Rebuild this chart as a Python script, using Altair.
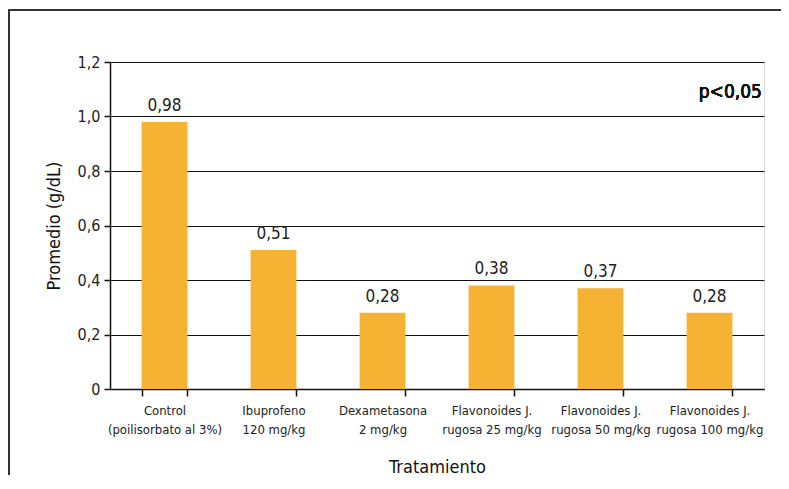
import altair as alt
import pandas as pd

categories = [
    "Control|(poilisorbato al 3%)",
    "Ibuprofeno|120 mg/kg",
    "Dexametasona|2 mg/kg",
    "Flavonoides J.|rugosa 25 mg/kg",
    "Flavonoides J.|rugosa 50 mg/kg",
    "Flavonoides J.|rugosa 100 mg/kg",
]
values = [0.98, 0.51, 0.28, 0.38, 0.37, 0.28]
y_ticks = [0, 0.2, 0.4, 0.6, 0.8, 1.0, 1.2]

df = pd.DataFrame({"cat": categories, "val": values})

FONT = "DejaVu Sans Condensed, Roboto Condensed, Liberation Sans Narrow, Roboto, sans-serif"
BAR = "#F6B233"

x_enc = alt.X(
    "cat:N",
    sort=categories,
    scale=alt.Scale(paddingInner=0.58, paddingOuter=0.29),
    axis=alt.Axis(
        title="Tratamiento",
        titleFont=FONT, titleFontSize=18, titleFontWeight="normal", titleColor="#111",
        titlePadding=22,
        labelExpr="split(datum.label, '|')",
        labelFont=FONT, labelFontSize=13, labelColor="#222", labelAngle=0,
        labelPadding=8, labelLineHeight=19,
        domainColor="#111", domainWidth=1.5,
        tickColor="#111", tickSize=7, tickWidth=1.5, tickBand="extent",
    ),
)
y_enc = alt.Y(
    "val:Q",
    scale=alt.Scale(domain=[0, 1.2], nice=False),
    axis=alt.Axis(
        title="Promedio (g/dL)",
        titleFont=FONT, titleFontSize=18, titleFontWeight="normal", titleColor="#111",
        titlePadding=14,
        values=y_ticks,
        labelExpr="datum.value == 0 ? '0' : replace(format(datum.value, '.1f'), '.', ',')",
        labelFont=FONT, labelFontSize=16, labelColor="#222", labelPadding=4,
        domainColor="#111", domainWidth=1.5,
        tickColor="#111", tickSize=6, tickWidth=1.5,
        grid=True, gridColor="#111", gridWidth=1.2,
    ),
)

bars = alt.Chart(df).mark_bar(color=BAR).encode(x=x_enc, y=y_enc)

labels = alt.Chart(df).transform_calculate(
    lab="replace(format(datum.val, '.2f'), '.', ',')"
).mark_text(
    font=FONT, fontSize=17, color="#222", baseline="alphabetic", dy=-11
).encode(
    x=alt.X("cat:N", sort=categories),
    y=alt.Y("val:Q"),
    text="lab:N",
)

ptext = alt.Chart(df).mark_text(
    font=FONT, fontSize=19, fontWeight="normal", color="#111", align="right", baseline="middle"
).encode(
    x=alt.value(652), y=alt.value(30), text=alt.value("p<0,05")
)

frame = alt.Chart(df).mark_rect(fill=None, stroke="#333", strokeWidth=1.2).encode(
    x=alt.value(-101), y=alt.value(-52), x2=alt.value(760), y2=alt.value(480)
)

chart = alt.layer(frame, bars, labels, ptext).properties(
    width=654, height=327,
    autosize=alt.AutoSizeParams(type="none"),
    padding={"left": 102, "top": 54, "right": 17, "bottom": 86},
).configure_view(stroke=None).configure(background="white")

chart.save("out.html", embed_options={"renderer": "svg", "actions": False})
